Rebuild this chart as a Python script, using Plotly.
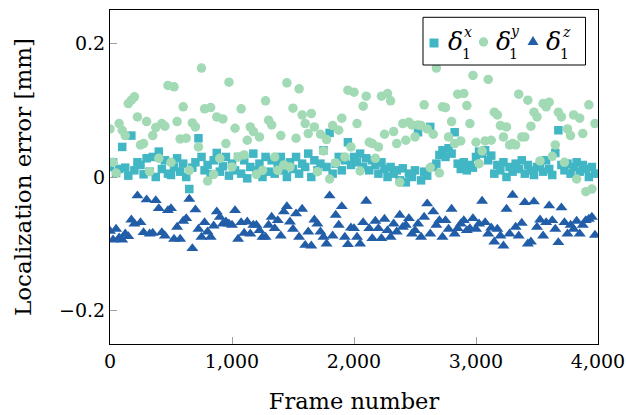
import plotly.graph_objects as go

frames = list(range(0, 4000, 25))

delta_x = [
    0.015, 0.022, 0.006, 0.012, 0.045, 0.014, 0.002, 0.062, 0.010, 0.022, 0.018, 0.004, 0.028, 0.008, 0.030, 0.000, 0.038, 0.012, 0.025, 0.005,
    0.003, 0.015, 0.028, 0.008, 0.020, 0.000, -0.018, 0.014, 0.022, 0.058, 0.030, 0.010, 0.018, 0.004, 0.025, 0.036, 0.008, 0.016, 0.030, 0.002,
    0.020, 0.010, 0.030, 0.005, 0.025, -0.002, 0.015, 0.035, 0.010, 0.020, 0.000, 0.030, 0.008, 0.025, 0.005, 0.018, 0.030, 0.010, 0.000, 0.022,
    0.012, 0.030, 0.005, 0.020, 0.015, 0.035, 0.000, 0.025, 0.010, 0.020, 0.040, 0.015, 0.066, 0.005, 0.020, 0.030, 0.010, 0.025, 0.052, 0.018,
    0.030, 0.022, 0.035, 0.015, 0.028, 0.010, 0.025, 0.018, 0.005, 0.022, 0.012, 0.000, 0.015, 0.005, 0.010, -0.005, 0.013, -0.008, 0.005, 0.000,
    0.010, 0.067, -0.005, 0.008, 0.002, 0.075, 0.015, 0.020, 0.033, 0.040, 0.030, 0.043, 0.035, 0.067, 0.020, 0.012, 0.022, 0.010, 0.018, 0.014,
    0.030, 0.038, 0.035, 0.040, 0.025, 0.032, 0.005, 0.018, 0.010, 0.022, 0.000, 0.015, 0.008, 0.020, 0.012, 0.025, 0.005, 0.018, 0.010, 0.003,
    0.015, 0.020, 0.008, 0.025, 0.012, 0.003, 0.036, 0.070, 0.018, 0.010, 0.020, 0.005, 0.015, 0.022, 0.008, 0.018, 0.012, 0.000, 0.015, 0.005,
]

delta_y = [
    0.072, 0.022, 0.006, 0.080, 0.070, 0.062, 0.110, 0.115, 0.120, 0.090, 0.048, 0.050, 0.083, 0.008, 0.062, 0.074, 0.028, 0.080, 0.076, 0.137,
    0.022, 0.135, 0.083, 0.057, 0.105, 0.058, 0.010, 0.081, 0.075, 0.045, 0.163, 0.102, -0.006, 0.104, 0.004, 0.090, 0.028, 0.087, 0.050, 0.142,
    0.015, 0.073, 0.030, 0.102, 0.033, 0.055, 0.075, 0.068, 0.004, 0.060, 0.010, 0.114, 0.085, 0.078, 0.030, 0.010, 0.062, 0.018, 0.141, 0.015,
    0.103, 0.058, 0.132, 0.093, 0.080, 0.065, 0.095, 0.075, 0.008, 0.064, 0.039, 0.056, -0.003, 0.077, 0.021, 0.070, 0.088, 0.030, 0.130, 0.045,
    0.127, 0.080, 0.009, 0.106, 0.121, 0.052, 0.050, 0.028, 0.045, 0.121, 0.064, 0.125, 0.114, 0.068, 0.050, -0.008, 0.080, 0.055, 0.082, 0.078,
    0.060, 0.078, 0.077, 0.108, 0.072, 0.014, 0.064, 0.163, 0.006, 0.105, 0.104, 0.060, 0.083, 0.050, 0.124, 0.054, 0.125, 0.107, 0.080, 0.152,
    0.052, 0.020, 0.039, 0.054, 0.146, 0.055, 0.097, 0.093, 0.077, 0.060, 0.075, 0.048, 0.050, 0.048, 0.124, 0.060, 0.060, 0.115, 0.076, 0.097,
    0.090, 0.024, 0.110, 0.105, 0.112, 0.031, 0.048, 0.097, 0.090, 0.022, 0.072, 0.062, 0.093, -0.003, 0.088, 0.065, -0.022, 0.108, -0.018, 0.080,
]

delta_z = [
    -0.081, -0.094, -0.078, -0.091, -0.094, -0.085, -0.089, -0.064, -0.070, -0.028, -0.068, -0.083, -0.034, -0.085, -0.084, -0.035, -0.047, -0.083, -0.088, -0.050,
    -0.047, -0.093, -0.075, -0.093, -0.066, -0.062, -0.033, -0.107, -0.049, -0.078, -0.090, -0.068, -0.082, -0.090, -0.073, -0.052, -0.060, -0.070, -0.067, -0.070,
    -0.072, -0.050, -0.093, -0.068, -0.084, -0.067, -0.085, -0.072, -0.072, -0.080, -0.090, -0.090, -0.072, -0.060, -0.077, -0.065, -0.088, -0.052, -0.044, -0.067,
    -0.078, -0.055, -0.090, -0.048, -0.102, -0.082, -0.103, -0.064, -0.070, -0.082, -0.090, -0.100, -0.028, -0.088, -0.057, -0.072, -0.044, -0.090, -0.101, -0.076,
    -0.077, -0.090, -0.100, -0.068, -0.036, -0.077, -0.092, -0.066, -0.077, -0.092, -0.063, -0.080, -0.090, -0.070, -0.082, -0.057, -0.075, -0.072, -0.062, -0.085,
    -0.080, -0.070, -0.090, -0.060, -0.040, -0.085, -0.052, -0.072, -0.065, -0.090, -0.065, -0.078, -0.048, -0.085, -0.077, -0.070, -0.065, -0.080, -0.077, -0.062,
    -0.078, -0.070, -0.036, -0.068, -0.085, -0.076, -0.097, -0.078, -0.088, -0.103, -0.048, -0.085, -0.027, -0.075, -0.088, -0.069, -0.038, -0.100, -0.097, -0.037,
    -0.075, -0.064, -0.088, -0.068, -0.043, -0.065, -0.078, -0.098, -0.046, -0.068, -0.085, -0.072, -0.078, -0.066, -0.085, -0.072, -0.065, -0.063, -0.060, -0.087,
]

series_names = ["x", "y", "z"]
series_colors = ["#41b6c4", "#a1dab4", "#225ea8"]
series_symbols = ["square", "circle", "triangle-up"]

x_ticks = [0, 1000, 2000, 3000, 4000]
x_tick_labels = ["0", "1,000", "2,000", "3,000", "4,000"]
y_ticks = [-0.2, 0, 0.2]
y_tick_labels = ["\u22120.2", "0", "0.2"]

FONT = "DejaVu Serif"

# body margin is removed by post_script; plot area in window px: x 110..598, y 10..344
PX0, PX1, PY0, PY1 = 110, 598, 10, 344
W, H = 626, 415


def px(wx):
    return (wx - PX0) / (PX1 - PX0)


def py(wy):
    return (PY1 - wy) / (PY1 - PY0)


fig = go.Figure()
for vals, name, col, sym, sz in zip(
    [delta_x, delta_y, delta_z], series_names, series_colors, series_symbols, [8.5, 9.5, 10.5]
):
    fig.add_trace(go.Scatter(
        x=frames, y=vals, mode="markers", name=name, showlegend=False,
        marker=dict(symbol=sym, size=sz, color=col, line=dict(width=0)),
    ))

axis_common = dict(
    showgrid=False, zeroline=False, showline=True, linecolor="black", linewidth=1,
    mirror=True, ticks="inside", ticklen=7, tickcolor="#a0a0a0", tickwidth=1,
    tickfont=dict(family=FONT, size=19, color="black"), automargin=False,
    ticklabeloverflow="allow",
)

# custom legend (box, symbols, stacked sub/superscripts)
shapes = [dict(type="rect", xref="paper", yref="paper",
               x0=px(423), x1=px(585.5), y0=py(65), y1=py(17.3),
               line=dict(color="black", width=1), fillcolor="white", layer="above")]
leg_sym_x = [434, 483.5, 533]
leg_sym_y = [43, 42, 41]
leg_delta_x = [455, 503.5, 553.5]
leg_sup_x = [468, 515, 566]
leg_sup_y = [32.5, 31.5, 32.5]
leg_sub_x = [466, 513, 564]
annotations = []
for i in range(3):
    cx, cy = leg_sym_x[i], leg_sym_y[i]
    if i == 0:
        shapes.append(dict(type="rect", xref="paper", yref="paper", xsizemode="pixel", ysizemode="pixel",
                           xanchor=px(cx), yanchor=py(cy), x0=-4.5, x1=4.5, y0=-4.5, y1=4.5,
                           line=dict(width=0), fillcolor=series_colors[i], layer="above"))
    elif i == 1:
        shapes.append(dict(type="circle", xref="paper", yref="paper", xsizemode="pixel", ysizemode="pixel",
                           xanchor=px(cx), yanchor=py(cy), x0=-4.7, x1=4.7, y0=-4.7, y1=4.7,
                           line=dict(width=0), fillcolor=series_colors[i], layer="above"))
    else:
        shapes.append(dict(type="path", xref="paper", yref="paper", xsizemode="pixel", ysizemode="pixel",
                           xanchor=px(cx), yanchor=py(cy), path="M -5.5 -4 L 5.5 -4 L 0 5 Z",
                           line=dict(width=0), fillcolor=series_colors[i], layer="above"))
    annotations.append(dict(xref="paper", yref="paper", x=px(leg_delta_x[i]), y=py(41.5),
                            text="<i>δ</i>", showarrow=False, xanchor="center", yanchor="middle",
                            font=dict(family=FONT, size=25, color="black")))
    annotations.append(dict(xref="paper", yref="paper", x=px(leg_sup_x[i]), y=py(leg_sup_y[i]),
                            text="<i>" + series_names[i] + "</i>", showarrow=False,
                            xanchor="center", yanchor="middle",
                            font=dict(family=FONT, size=14, color="black")))
    annotations.append(dict(xref="paper", yref="paper", x=px(leg_sub_x[i]), y=py(54),
                            text="1", showarrow=False, xanchor="center", yanchor="middle",
                            font=dict(family=FONT, size=14, color="black")))

fig.update_layout(
    width=W, height=H,
    margin=dict(l=PX0, r=W - PX1, t=PY0, b=H - PY1),
    paper_bgcolor="white", plot_bgcolor="white",
    showlegend=False,
    shapes=shapes,
    annotations=annotations,
    xaxis=dict(
        range=[0, 4000], tickvals=x_ticks, ticktext=x_tick_labels,
        title=dict(text="Frame number", font=dict(family=FONT, size=22.5, color="black"), standoff=22),
        **axis_common,
    ),
    yaxis=dict(
        range=[-0.25, 0.25], tickvals=y_ticks, ticktext=y_tick_labels,
        title=dict(text="Localization error [mm]", font=dict(family=FONT, size=23, color="black"), standoff=21),
        **axis_common,
    ),
)

fig.write_html(
    "out.html",
    config={"displayModeBar": False},
    post_script="document.body.style.margin='0';document.body.style.overflow='hidden';",
)
